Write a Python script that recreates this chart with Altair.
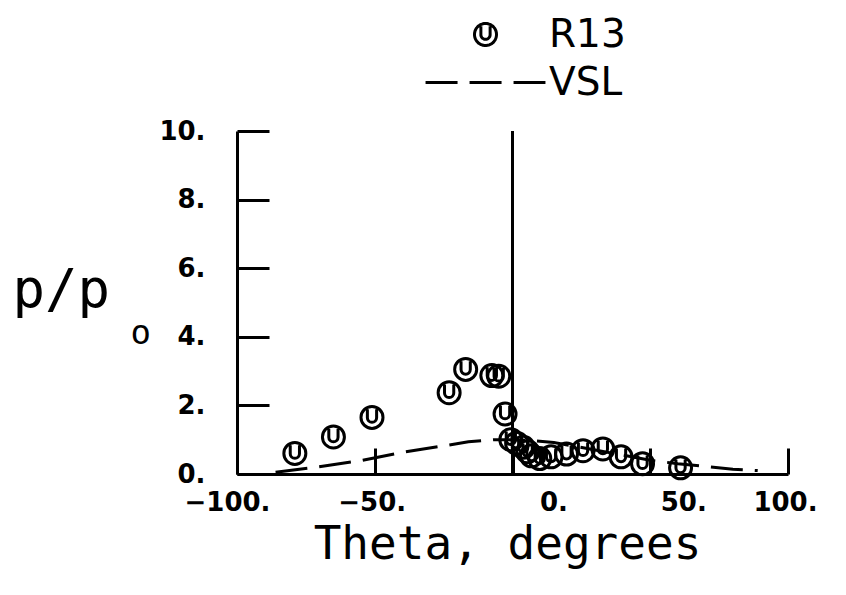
import altair as alt
import pandas as pd

# ---- data ----
series = ["R13", "VSL"]
r13_theta = [-79, -65, -51, -23, -17, -7.5, -5, -2.7, -0.6, 1.5, 3.9, 5.5, 6.9, 9.9,
             14.0, 19.6, 25.6, 32.8, 39.4, 47.2, 61.0]
r13_p = [0.60, 1.08, 1.65, 2.37, 3.05, 2.87, 2.85, 1.75, 1.00, 0.90, 0.78, 0.65, 0.53, 0.45,
         0.50, 0.58, 0.68, 0.73, 0.50, 0.30, 0.18]
vsl_theta = [-86, -74, -55, -40, -25, -16, -7, 0, 8, 15, 30, 40, 50, 60, 70, 80, 89]
vsl_p = [0.05, 0.17, 0.39, 0.63, 0.82, 0.94, 1.00, 1.00, 0.97, 0.92, 0.70, 0.55, 0.40,
         0.30, 0.22, 0.14, 0.10]
x_ticks = [-100, -50, 0, 50, 100]
y_ticks = [0, 2, 4, 6, 8, 10]
ref_line_x = [0]

df_r = pd.DataFrame({"theta": r13_theta, "p": r13_p, "series": "R13"})
df_v = pd.DataFrame({"theta": vsl_theta, "p": vsl_p, "series": "VSL"})
df_rule = pd.DataFrame({"theta": ref_line_x})

U_PATH = ("M -1 0 A 1 1 0 1 0 1 0 A 1 1 0 1 0 -1 0 Z "
          "M -0.42 -0.75 L -0.42 0.02 A 0.42 0.42 0 0 0 0.42 0.02 L 0.42 -0.75")
LINE_PATH = "M -5.45 0 L 5.45 0"

xscale = alt.Scale(domain=[-100, 100], nice=False, zero=False)
yscale = alt.Scale(domain=[0, 10], nice=False)

LABEL_FONT = "DejaVu Sans"
TITLE_FONT = "DejaVu Sans Mono"

legend = alt.Legend(title=None, orient="none", legendX=229, legendY=-116,
                    direction="vertical")

x_main = alt.Axis(values=x_ticks, orient="bottom", ticks=False, domain=True,
                  domainColor="black", domainWidth=3, grid=False,
                  labelExpr="datum.label + '.'", labelFont=LABEL_FONT,
                  labelFontSize=26, labelFontWeight="bold", labelColor="black",
                  labelPadding=15, labelFlush=False,
                  labelOffset={"condition": [
                      {"test": "datum.value == 0", "value": 41},
                      {"test": "datum.value == 50", "value": 33},
                      {"test": "datum.value == -100", "value": -10}],
                      "value": -3},
                  title="Theta, degrees", titleFont=TITLE_FONT, titleFontSize=46,
                  titleFontWeight="normal", titleColor="black",
                  titleBaseline="alphabetic", titleY=84, titleX=270)
x_tick_axis = alt.Axis(values=x_ticks, orient="bottom", offset=-26, tickSize=26,
                       tickWidth=3, tickColor="black", domain=False, labels=False,
                       grid=False, title=None)
y_main = alt.Axis(values=y_ticks, orient="left", ticks=False, domain=True,
                  domainColor="black", domainWidth=3, grid=False,
                  labelExpr="datum.label + '.'", labelFont=LABEL_FONT,
                  labelFontSize=26, labelFontWeight="bold", labelColor="black",
                  labelPadding=32,
                  title="p/p", titleFont=TITLE_FONT, titleFontSize=54,
                  titleFontWeight="normal", titleColor="black", titleAngle=0,
                  titleAlign="left", titleBaseline="alphabetic",
                  titleX=-225, titleY=175)
y_tick_axis = alt.Axis(values=y_ticks, orient="left", offset=-32, tickSize=32,
                       tickWidth=3, tickColor="black", domain=False, labels=False,
                       grid=False,
                       title="o", titleFont=TITLE_FONT, titleFontSize=34,
                       titleFontWeight="normal", titleColor="black", titleAngle=0,
                       titleAlign="left", titleBaseline="alphabetic",
                       titleX=-139, titleY=212)

line = alt.Chart(df_v).mark_line(color="black", strokeWidth=3).encode(
    x=alt.X("theta:Q", scale=xscale, axis=x_tick_axis),
    y=alt.Y("p:Q", scale=yscale, axis=y_tick_axis),
    strokeDash=alt.StrokeDash("series:N",
                              scale=alt.Scale(domain=series, range=[[1, 0], [32, 12]]),
                              legend=legend),
)

points = alt.Chart(df_r).mark_point(filled=False, strokeWidth=3, size=484,
                                     color="black", opacity=1).encode(
    x=alt.X("theta:Q", scale=xscale, axis=x_main),
    y=alt.Y("p:Q", scale=yscale, axis=y_main),
    shape=alt.Shape("series:N", scale=alt.Scale(domain=series, range=[U_PATH, LINE_PATH]),
                    legend=legend),
)

rule = alt.Chart(df_rule).mark_rule(color="black", strokeWidth=3).encode(
    x=alt.X("theta:Q", scale=xscale, axis=None),
)

chart = alt.layer(line, points, rule).resolve_axis(
    x="independent", y="independent"
).properties(
    width=551, height=343,
    autosize=alt.AutoSizeParams(type="none"),
    padding={"left": 229, "top": 123, "right": 50, "bottom": 110},
    background="white",
).configure_view(stroke=None).configure_legend(
    symbolSize=484, symbolStrokeWidth=3, symbolStrokeColor="black",
    symbolFillColor="transparent",
    labelFont="DejaVu Sans", labelFontSize=39, labelColor="black",
    labelOffset=44, labelLimit=400, rowPadding=8,
)

chart.save("out.html", embed_options={"renderer": "svg", "actions": False})
